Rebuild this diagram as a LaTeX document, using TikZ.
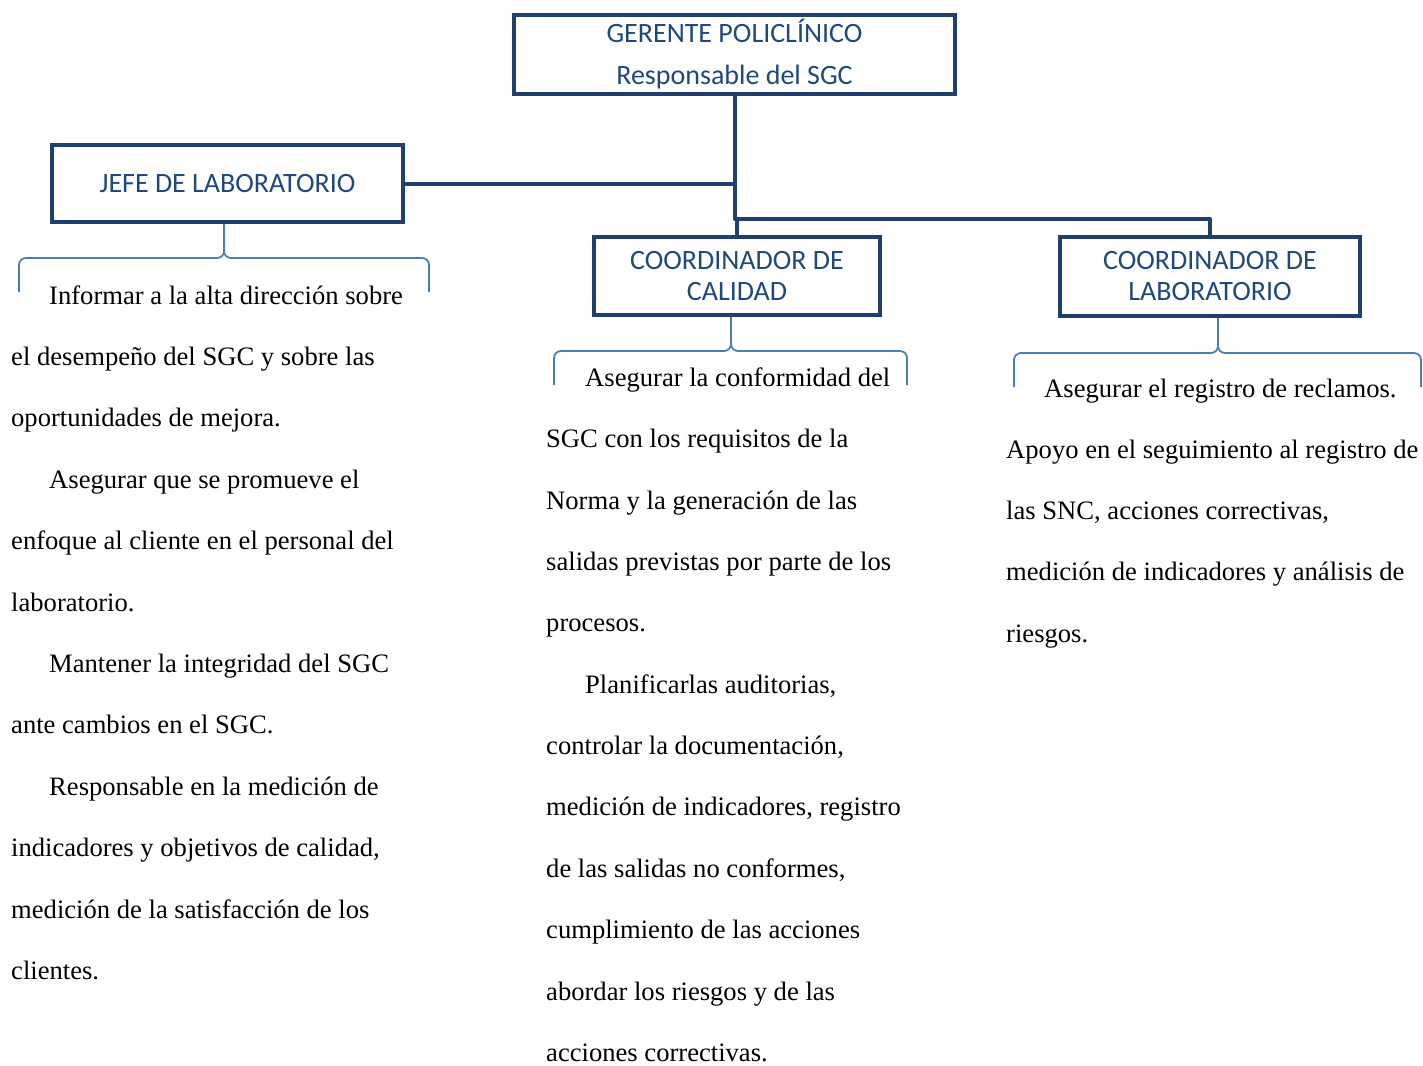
\documentclass[tikz,border=0pt]{standalone}
\usepackage{fontspec}
\setmainfont{Liberation Serif}
\newfontfamily\boxfont{Carlito}
\definecolor{boxline}{HTML}{1F3F6E}
\definecolor{boxtext}{HTML}{1F497D}
\definecolor{bracecol}{HTML}{4A7EBB}
\tikzset{
  orgbox/.style={draw=boxline, line width=4pt, rectangle, inner sep=0pt, align=center,
    text=boxtext, fill=white},
  conn/.style={draw=boxline, line width=4pt, line join=round},
  brc/.style={draw=bracecol, line width=1.8pt, rounded corners=7pt},
  bodyline/.style={anchor=base west, inner sep=0pt, font=\fontsize{26.6}{30}\selectfont}
}
\begin{document}
\begin{tikzpicture}[x=1pt,y=-1pt]
\useasboundingbox (0,0) rectangle (1423,1065);
\fill[white] (0,0) rectangle (1423,1065);

% boxes
\node[orgbox, minimum width=441pt, minimum height=79pt,
  font=\boxfont\fontsize{28}{42}\selectfont] (top) at (734.5,54.5)
  {GERENTE POLICLÍNICO\\Responsable del SGC};
\node[orgbox, minimum width=351pt, minimum height=77pt,
  font=\boxfont\fontsize{28}{31}\selectfont] (jefe) at (227.5,183.5)
  {JEFE DE LABORATORIO};
\node[orgbox, minimum width=286pt, minimum height=78pt,
  font=\boxfont\fontsize{28}{31}\selectfont] (cal) at (737,276)
  {COORDINADOR DE\\CALIDAD};
\node[orgbox, minimum width=300pt, minimum height=79pt,
  font=\boxfont\fontsize{28}{31}\selectfont] (lab) at (1210,276.5)
  {COORDINADOR DE\\LABORATORIO};

% connectors
\coordinate (hub) at (734.5,219);
\draw[conn] (top.south) -- (top.south |- jefe.east) -- (jefe.east);
\draw[conn] (top.south) -- (hub) -- (lab.north |- hub) -- (lab.north);
\draw[conn] (hub) -- (cal.north |- hub) -- (cal.north);

% braces
\draw[brc] (19,292) -- (19,258) -- (224,258) -- (224,224);
\draw[brc] (429,292) -- (429,258) -- (224,258) -- (224,224);
\draw[brc] (554,385) -- (554,351) -- (731,351) -- (731,317);
\draw[brc] (907,385) -- (907,351) -- (731,351) -- (731,317);
\draw[brc] (1014,387) -- (1014,353) -- (1218,353) -- (1218,318);
\draw[brc] (1421,387) -- (1421,353) -- (1218,353) -- (1218,318);

% left column
\foreach \ind/\txt [count=\i] in {
  38/{Informar a la alta dirección sobre},
  0/{el desempeño del SGC y sobre las},
  0/{oportunidades de mejora.},
  38/{Asegurar que se promueve el},
  0/{enfoque al cliente en el personal del},
  0/{laboratorio.},
  38/{Mantener la integridad del SGC},
  0/{ante cambios en el SGC.},
  38/{Responsable en la medición de},
  0/{indicadores y objetivos de calidad,},
  0/{medición de la satisfacción de los},
  0/{clientes.}}
  \node[bodyline] (L\i) at (11+\ind,304+61.4*\i-61.4) {\txt};

% middle column
\foreach \ind/\txt [count=\i] in {
  39/{Asegurar la conformidad del},
  0/{SGC con los requisitos de la},
  0/{Norma y la generación de las},
  0/{salidas previstas por parte de los},
  0/{procesos.},
  39/{Planificarlas auditorias,},
  0/{controlar la documentación,},
  0/{medición de indicadores, registro},
  0/{de las salidas no conformes,},
  0/{cumplimiento de las acciones},
  0/{abordar los riesgos y de las},
  0/{acciones correctivas.}}
  \node[bodyline] (M\i) at (546+\ind,386.5+61.35*\i-61.35) {\txt};

% right column
\foreach \ind/\txt [count=\i] in {
  38/{Asegurar el registro de reclamos.},
  0/{Apoyo en el seguimiento al registro de},
  0/{las SNC, acciones correctivas,},
  0/{medición de indicadores y análisis de},
  0/{riesgos.}}
  \node[bodyline] (R\i) at (1006+\ind,397+61.3*\i-61.3) {\txt};
\end{tikzpicture}
\end{document}
